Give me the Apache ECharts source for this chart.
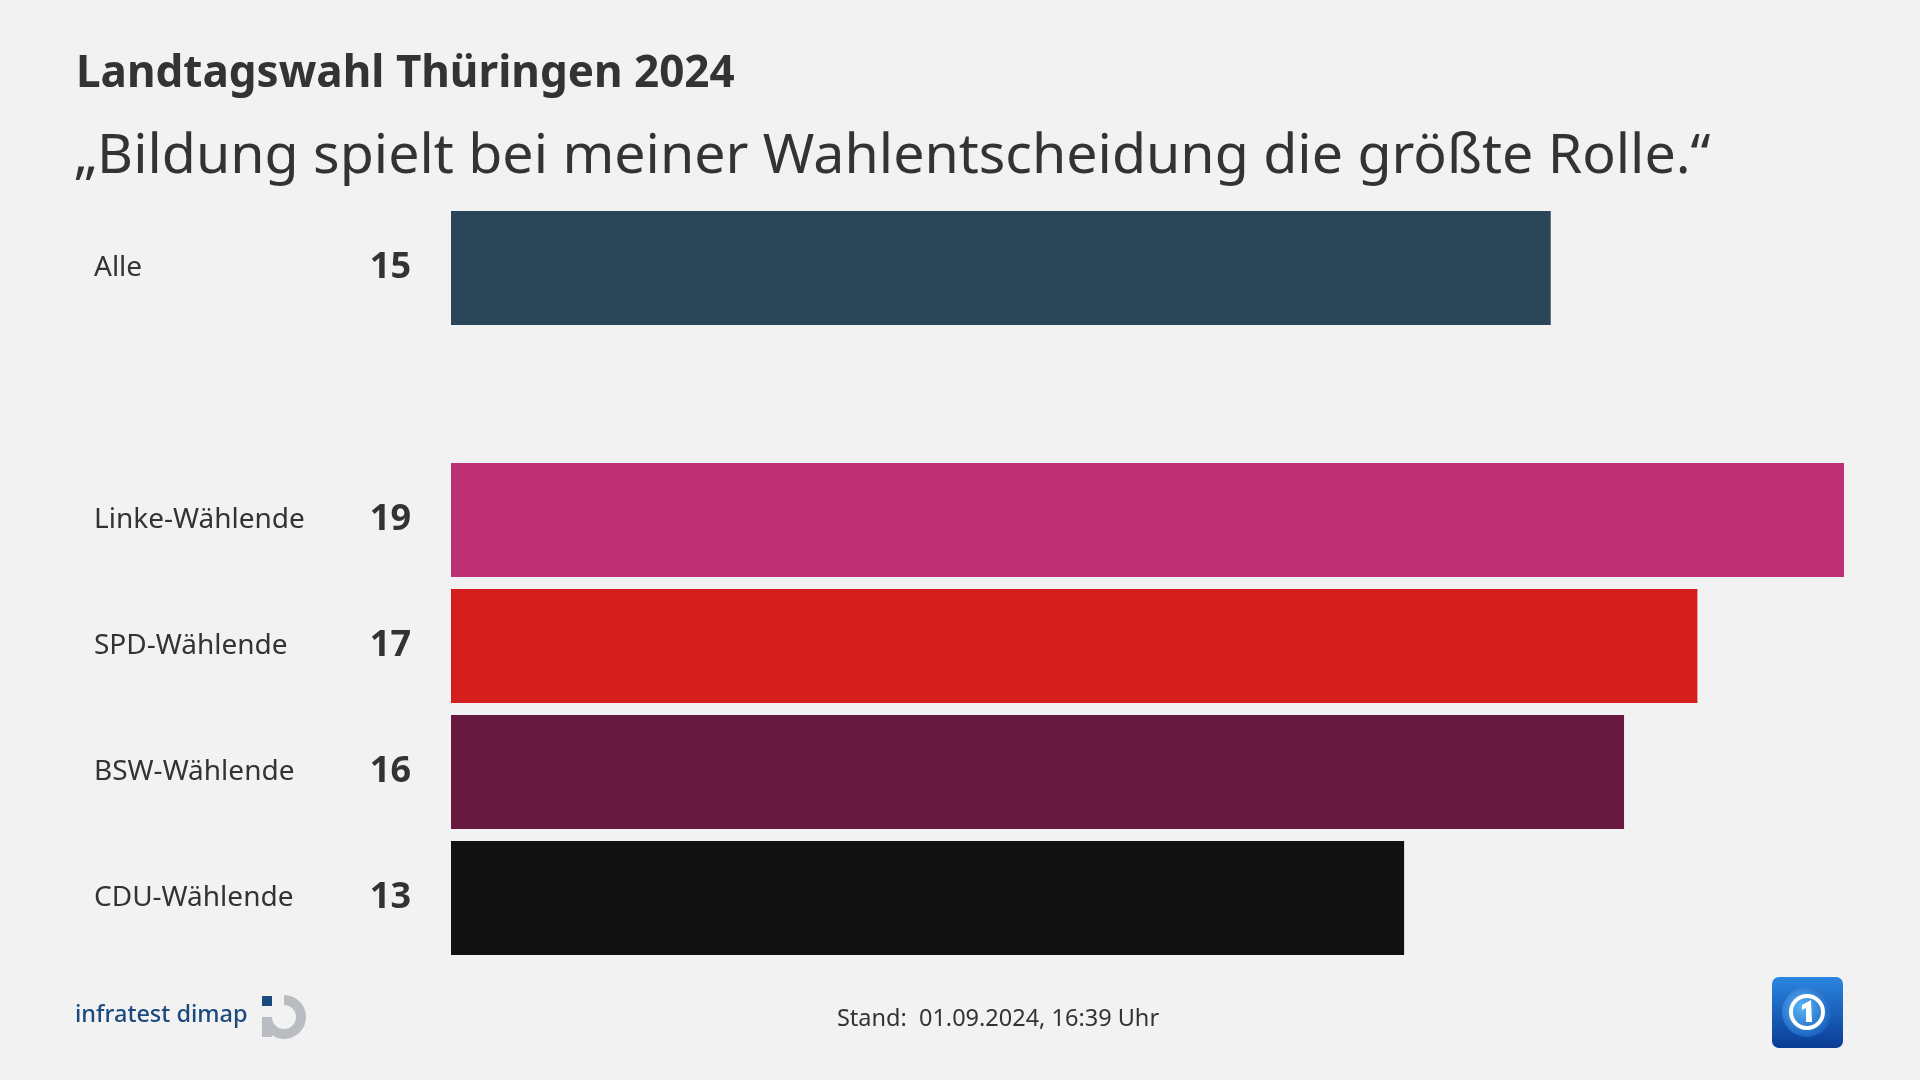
<!DOCTYPE html>
<html>
<head>
<meta charset="utf-8">
<script src="https://cdn.jsdelivr.net/npm/echarts@6/dist/echarts.min.js"></script>
<style>
html,body{margin:0;padding:0;background:#f2f2f2;}
#chart{width:1920px;height:1080px;}
</style>
</head>
<body>
<div id="chart"></div>
<script>
const titleText = 'Landtagswahl Thüringen 2024';
const subtitleText = '\u201EBildung spielt bei meiner Wahlentscheidung die größte Rolle.\u201C';
const footerText = 'Stand:  01.09.2024, 16:39 Uhr';
const categories = ['Alle', '', 'Linke-Wählende', 'SPD-Wählende', 'BSW-Wählende', 'CDU-Wählende'];
const values = [15, null, 19, 17, 16, 13];
const barColors = ['#2b4659', 'transparent', '#bd3174', '#d51f1f', '#671940', '#111111'];

const chart = echarts.init(document.getElementById('chart'), null, {renderer: 'canvas'});
const FONT = '"Noto Sans", sans-serif';

chart.setOption({
  backgroundColor: '#f2f2f2',
  animation: false,
  grid: {left: 451, right: 76, top: 205, bottom: 119, containLabel: false},
  xAxis: {type: 'value', min: 0, max: 19, show: false},
  yAxis: {
    type: 'category', data: categories, inverse: true,
    axisLine: {show: false}, axisTick: {show: false}, splitLine: {show: false},
    axisLabel: {align: 'left', margin: 357, color: '#333', fontFamily: FONT, fontSize: 28, padding: [7, 0, 0, 0]}
  },
  series: [{
    type: 'bar',
    barCategoryGap: '9.5%',
    data: values.map((v, i) => ({value: v, itemStyle: {color: barColors[i]}})),
    label: {
      show: true, position: 'left', distance: 40,
      formatter: p => (p.value == null ? '' : String(p.value)),
      color: '#333', fontFamily: FONT, fontWeight: 'bold', fontSize: 36, padding: [6, 0, 0, 0]
    }
  }],
  graphic: [
    {type: 'text', left: 76, top: 52, style: {text: titleText, fill: '#333', font: 'bold 44px ' + FONT}},
    {type: 'text', left: 74, top: 129, style: {text: subtitleText, fill: '#333', font: '55.5px ' + FONT}},
    {type: 'text', x: 998, y: 1019, style: {text: footerText, fill: '#333', font: '23.5px ' + FONT, align: 'center', verticalAlign: 'middle'}},
    {type: 'text', x: 75, y: 1015, style: {text: 'infratest dimap', fill: '#1b4a7e', font: '500 23.5px ' + FONT, verticalAlign: 'middle'}},
    {type: 'sector', shape: {cx: 284, cy: 1017, r: 22, r0: 12, startAngle: -Math.PI/2, endAngle: Math.PI, clockwise: true}, style: {fill: '#b9bdc2'}},
    {type: 'rect', shape: {x: 262, y: 1017, width: 10, height: 20}, style: {fill: '#b9bdc2'}},
    {type: 'rect', shape: {x: 262, y: 996, width: 10, height: 10}, style: {fill: '#1b4a7e'}},
    {type: 'rect', shape: {x: 1772, y: 977, width: 71, height: 71, r: 7}, style: {fill: new echarts.graphic.LinearGradient(0, 0, 0, 1, [{offset: 0, color: '#2a86e0'}, {offset: 1, color: '#0a3c94'}])}},
    {type: 'circle', shape: {cx: 1807, cy: 1012, r: 25}, style: {fill: new echarts.graphic.RadialGradient(0.4, 0.4, 0.7, [{offset: 0, color: '#5ab4f5'}, {offset: 1, color: '#1156b8'}])}},
    {type: 'circle', shape: {cx: 1807, cy: 1012, r: 16}, style: {fill: 'none', stroke: '#ffffff', lineWidth: 4}},
    {type: 'polygon', shape: {points: [[1802, 1005], [1811, 1000], [1812, 1022], [1806, 1022], [1806, 1008], [1802, 1010]]}, style: {fill: '#ffffff'}}
  ]
});
</script>
</body>
</html>
